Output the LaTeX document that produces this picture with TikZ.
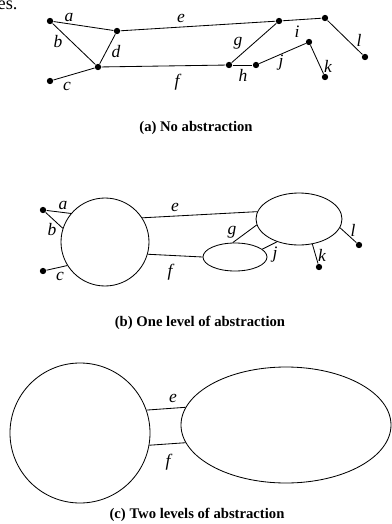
\documentclass[tikz,border=0pt]{standalone}
\usepackage{fontspec}
\setmainfont{Liberation Serif}
\usetikzlibrary{shapes.geometric}

\begin{document}
\begin{tikzpicture}[x=0.6pt, y=-0.6pt, line width=0.5pt,
    vtx/.style={circle, fill, inner sep=0pt, minimum size=3.8pt},
    lbl/.style={inner sep=0pt, font=\fontsize{10.5}{12}\selectfont\itshape},
    captxt/.style={inner sep=0pt, font=\fontsize{8.8}{10}\selectfont\bfseries},
    blob/.style 2 args={draw, ellipse, inner sep=0pt, minimum width=#1, minimum height=#2}]
\useasboundingbox (0,0) rectangle (391,524);
\node[anchor=base east, inner sep=0pt, font=\fontsize{11}{13}\selectfont] (frag) at (18,9) {es.};
% (a) no abstraction
\node[vtx] (A1) at (50,21) {};
\node[vtx] (A2) at (117,31) {};
\node[vtx] (A3) at (98,67) {};
\node[vtx] (A4) at (50,81) {};
\node[vtx] (A5) at (279,21) {};
\node[vtx] (A6) at (325,18) {};
\node[vtx] (A7) at (365,57) {};
\node[vtx] (A8) at (229,65) {};
\node[vtx] (A9) at (256,65) {};
\node[vtx] (A10) at (309,42) {};
\node[vtx] (A11) at (325,77) {};
\draw (A1)--(A2);
\draw (A1)--(A3);
\draw (A2)--(A3);
\draw (A4)--(A3);
\draw (A2)--(A5);
\draw (A3)--(A8);
\draw (A5)--(A8);
\draw (A8)--(A9);
\draw (A5)--(A6);
\draw (A6)--(A7);
\draw (A9)--(A10);
\draw (A10)--(A11);
\node[lbl] (la) at (69,17) {a};
\node[lbl] (lb) at (58,42) {b};
\node[lbl] (ld) at (116,52) {d};
\node[lbl] (lc) at (67,86) {c};
\node[lbl] (le) at (181,18) {e};
\node[lbl] (lf) at (177,82) {f};
\node[lbl] (lg) at (238,43) {g};
\node[lbl] (lh) at (243,75) {h};
\node[lbl] (li) at (297,32) {i};
\node[lbl] (ll) at (359,40) {l};
\node[lbl] (lj) at (281,63) {j};
\node[lbl] (lk) at (328,66) {k};
\node[captxt] (capa) at (196,128) {(a) No abstraction};
% (b) one level
\node[blob={52.8pt}{52.8pt}] (B1) at (105,242) {};
\node[blob={51.6pt}{31.2pt}] (B2) at (299,219) {};
\node[blob={38.4pt}{16.8pt}] (B3) at (235,257) {};
\node[vtx] (Ba) at (43,210) {};
\node[vtx] (Bc) at (43,271) {};
\node[vtx] (Bk) at (319,267) {};
\node[vtx] (Bl) at (359,245) {};
\draw (Ba)--(B1.140);
\draw (Ba)--(B1.162);
\draw (Bc)--(B1.212);
\draw (B1.33)--(B2.170);
\draw (B1.-16)--(B3.180);
\draw (B2.188)--(B3.99);
\draw (B3.16)--(B2.226);
\draw (B2.-62)--(Bk);
\draw (B2.-12)--(Bl);
\node[lbl] (lba) at (63,205) {a};
\node[lbl] (lbb) at (52,230) {b};
\node[lbl] (lbc) at (60,276) {c};
\node[lbl] (lbe) at (175,207) {e};
\node[lbl] (lbf) at (170,272) {f};
\node[lbl] (lbg) at (232,232) {g};
\node[lbl] (lbj) at (275,255) {j};
\node[lbl] (lbk) at (322,255) {k};
\node[lbl] (lbl) at (353,230) {l};
\node[captxt] (capb) at (200,323) {(b) One level of abstraction};
% (c) two levels
\node[blob={84pt}{84pt}] (C1) at (80,433) {};
\node[blob={126pt}{69.6pt}] (C2) at (286,425) {};
\draw (C1.19)--(C2.170);
\draw (C1.-10)--(C2.190);
\node[lbl] (lce) at (173,398) {e};
\node[lbl] (lcf) at (168,462) {f};
\node[captxt] (capc) at (197,515) {(c) Two levels of abstraction};
\end{tikzpicture}
\end{document}
